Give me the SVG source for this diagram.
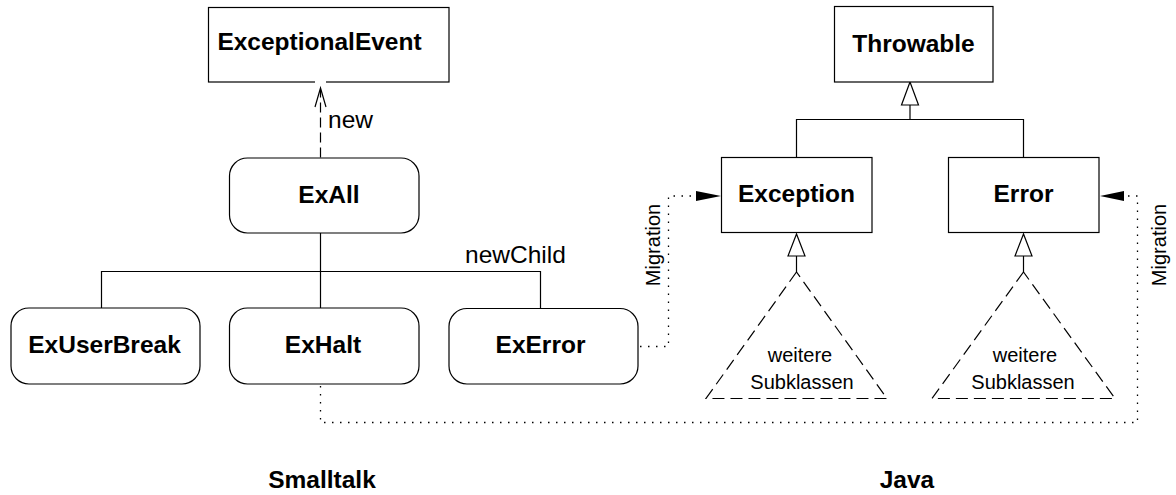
<svg xmlns="http://www.w3.org/2000/svg" width="1176" height="495" viewBox="0 0 1176 495">
<style>
.box{fill:#fff;stroke:#000;stroke-width:1.2}
.ln{fill:none;stroke:#000;stroke-width:1.2}
.dash{fill:none;stroke:#000;stroke-width:1.2;stroke-dasharray:10 5}
.dot{fill:none;stroke:#000;stroke-width:1.3;stroke-dasharray:1.5 6.5}
.tri{fill:none;stroke:#000;stroke-width:1.2;stroke-dasharray:12 6}
.gen{fill:#fff;stroke:#000;stroke-width:1.2}
.b{font-family:"Liberation Sans",Arial,sans-serif;font-weight:bold;font-size:24.5px;text-anchor:middle;fill:#000}
.n{font-family:"Liberation Sans",Arial,sans-serif;font-size:24.5px;fill:#000}
.s{font-family:"Liberation Sans",Arial,sans-serif;font-size:20px;text-anchor:middle;fill:#000}
</style>
<g id="connectors">
<line class="dash" x1="320.5" y1="157.5" x2="320.5" y2="90"/>
<polyline class="ln" points="315,107 320.5,88 326,107"/>
<line class="ln" x1="320.5" y1="233" x2="320.5" y2="308"/>
<polyline class="ln" points="101.5,308 101.5,271.5 540.5,271.5 540.5,308"/>
<polyline class="ln" points="796.5,157 796.5,119.5 1023.5,119.5 1023.5,157"/>
<line class="ln" x1="910" y1="105" x2="910" y2="119"/>
<polygon class="gen" points="910,82 901.5,105 918.5,105"/>
<line class="ln" x1="796.5" y1="256" x2="796.5" y2="272"/>
<polygon class="gen" points="796.5,234 788,256 805,256"/>
<line class="ln" x1="1023.5" y1="256" x2="1023.5" y2="272"/>
<polygon class="gen" points="1023.5,234 1015,256 1032,256"/>
<polyline class="dot" points="640,346.5 668.5,346.5 668.5,196 697,196"/>
<path d="M696,191 L721,196 L696,201 Z" fill="#000"/>
<polyline class="dot" points="320.5,386 320.5,422.5 1137.5,422.5 1137.5,196 1125,196"/>
<path d="M1124,191 L1100,196 L1124,201 Z" fill="#000"/>
</g>
<g id="ExceptionalEvent">
<rect class="box" x="208.5" y="7.5" width="240.5" height="74.5"/>
<line x1="315" y1="82" x2="326" y2="82" stroke="#fff" stroke-width="2"/>
<text class="b" x="319.5" y="50">ExceptionalEvent</text>
</g>
<g id="ExAll">
<rect class="box" x="229.5" y="158" width="189.5" height="75" rx="18"/>
<text class="b" x="329" y="203">ExAll</text>
</g>
<g id="ExUserBreak">
<rect class="box" x="11" y="308" width="189" height="76" rx="18"/>
<text class="b" x="104.5" y="353">ExUserBreak</text>
</g>
<g id="ExHalt">
<rect class="box" x="229.5" y="308" width="189.5" height="76" rx="18"/>
<text class="b" x="323" y="353">ExHalt</text>
</g>
<g id="ExError">
<rect class="box" x="449" y="308.5" width="189" height="75.5" rx="18"/>
<text class="b" x="540.5" y="353">ExError</text>
</g>
<g id="Throwable">
<rect class="box" x="834.5" y="6.5" width="158.5" height="75.5"/>
<text class="b" x="913.5" y="51.5">Throwable</text>
</g>
<g id="Exception">
<rect class="box" x="721.5" y="157.5" width="150.5" height="75"/>
<text class="b" x="796.5" y="202">Exception</text>
</g>
<g id="Error">
<rect class="box" x="948.5" y="157.5" width="150.5" height="75"/>
<text class="b" x="1023.5" y="202">Error</text>
</g>
<g id="ExceptionSubclasses">
<polygon class="tri" points="796.5,272 706,398.5 887,398.5"/>
<text class="s" x="800" y="362">weitere</text>
<text class="s" x="802" y="389">Subklassen</text>
</g>
<g id="ErrorSubclasses">
<polygon class="tri" points="1023.5,272 932,398.5 1115,398.5"/>
<text class="s" x="1025" y="362">weitere</text>
<text class="s" x="1023" y="389">Subklassen</text>
</g>
<g id="labels">
<text class="n" x="328" y="128">new</text>
<text class="n" x="465" y="263">newChild</text>
<text class="s" transform="translate(660,245) rotate(-90)">Migration</text>
<text class="s" transform="translate(1166,245) rotate(-90)">Migration</text>
<text class="b" x="322" y="488">Smalltalk</text>
<text class="b" x="907" y="488">Java</text>
</g>
</svg>
